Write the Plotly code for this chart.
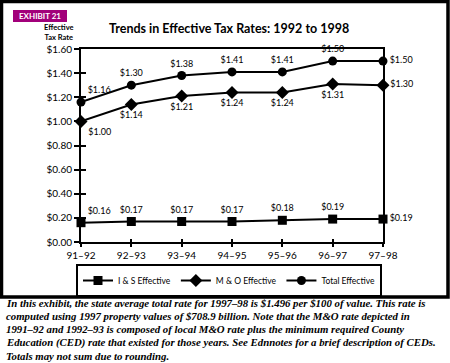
import plotly.graph_objects as go

years = ["91–92", "92–93", "93–94", "94–95", "95–96", "96–97", "97–98"]
is_eff = [0.16, 0.17, 0.17, 0.17, 0.18, 0.19, 0.19]
mo_eff = [1.00, 1.14, 1.21, 1.24, 1.24, 1.31, 1.30]
total_eff = [1.16, 1.30, 1.38, 1.41, 1.41, 1.50, 1.50]
y_ticks = [0.0, 0.2, 0.4, 0.6, 0.8, 1.0, 1.2, 1.4, 1.6]
y_tick_labels = ["$0.00", "$0.20", "$0.40", "$0.60", "$0.80", "$1.00", "$1.20", "$1.40", "$1.60"]
footer_lines = [
    "In this exhibit, the state average total rate for 1997–98 is $1.496 per $100 of value. This rate is",
    "computed using 1997 property values of $708.9 billion. Note that the M&O rate depicted in",
    "1991–92 and 1992–93 is composed of local M&O rate plus the minimum required County",
    "Education (CED) rate that existed for those years. See Ednnotes for a brief description of CEDs.",
    "Totals may not sum due to rounding.",
]

W, H = 450, 363
L, R, T, B = 81, 383, 49, 242
def px(x):
    return (x - L) / (R - L)
def py(y):
    return (B - y) / (B - T)

xs = list(range(len(years)))
FONT = "Lato"
lab = dict(family=FONT, size=9, color="black")

def labels(vals):
    return ["$%.2f" % v for v in vals]

fig = go.Figure()
fig.add_trace(go.Scatter(
    x=xs, y=is_eff, name="I & S Effective", mode="lines+markers+text",
    line=dict(color="black", width=2), marker=dict(symbol="square", size=9, color="black"),
    text=labels(is_eff),
    textposition=["top right"] + ["top center"] * 5 + ["middle right"],
    textfont=lab, cliponaxis=False))
fig.add_trace(go.Scatter(
    x=xs, y=mo_eff, name="M & O Effective", mode="lines+markers+text",
    line=dict(color="black", width=2), marker=dict(symbol="diamond", size=10, color="black"),
    text=labels(mo_eff),
    textposition=["bottom right"] + ["bottom center"] * 5 + ["middle right"],
    textfont=lab, cliponaxis=False))
fig.add_trace(go.Scatter(
    x=xs, y=total_eff, name="Total Effective", mode="lines+markers+text",
    line=dict(color="black", width=2), marker=dict(symbol="circle", size=9, color="black"),
    text=labels(total_eff),
    textposition=["top right"] + ["top center"] * 5 + ["middle right"],
    textfont=lab, cliponaxis=False))

# invisible trace on overlay axes for inside ticks
fig.add_trace(go.Scatter(x=[0], y=[0], xaxis="x2", yaxis="y2", mode="markers",
                         marker=dict(opacity=0), showlegend=False, hoverinfo="skip"))

axfont = dict(family=FONT, size=10, color="black")
fig.update_layout(
    width=W, height=H,
    margin=dict(l=L, r=W - R, t=T, b=H - B, pad=0, autoexpand=False),
    paper_bgcolor="white", plot_bgcolor="white",
    showlegend=True,
    xaxis=dict(range=[0, 6], tickvals=xs, ticktext=years, showgrid=False, zeroline=False,
               showline=True, linecolor="black", linewidth=2, mirror=True,
               ticks="outside", ticklen=3, tickwidth=2, tickcolor="black", tickfont=axfont),
    yaxis=dict(range=[0, 1.6], tickvals=y_ticks, ticktext=y_tick_labels, showgrid=False,
               zeroline=False, showline=True, linecolor="black", linewidth=2, mirror=True,
               ticks="outside", ticklen=5, tickwidth=2, tickcolor="black", tickfont=axfont),
    xaxis2=dict(range=[0, 6], overlaying="x", tickvals=xs, showticklabels=False, showgrid=False,
                zeroline=False, ticks="inside", ticklen=3, tickwidth=2, tickcolor="black"),
    yaxis2=dict(range=[0, 1.6], overlaying="y", tickvals=y_ticks, showticklabels=False,
                showgrid=False, zeroline=False, ticks="inside", ticklen=5, tickwidth=2,
                tickcolor="black"),
    legend=dict(orientation="h", x=px(76), xanchor="left", y=py(264), yanchor="top",
                bordercolor="black", borderwidth=2, bgcolor="white",
                font=dict(family=FONT, size=8.5, color="black"),
                itemwidth=30, tracegroupgap=0),
)

shapes = [
    dict(type="rect", xref="paper", yref="paper", x0=px(1.5), x1=px(448), y0=py(1.5), y1=py(297),
         line=dict(color="black", width=3.5), layer="below"),
    dict(type="rect", xref="paper", yref="paper", x0=px(13), x1=px(67), y0=py(10), y1=py(22),
         fillcolor="#a2007a", line=dict(width=0)),
]
fig.update_layout(shapes=shapes)

ann = [
    dict(text="<b>EXHIBIT 21</b>", x=px(40), y=py(16), xref="paper", yref="paper",
         showarrow=False, font=dict(family=FONT, size=8, color="white"), xanchor="center", yanchor="middle"),
    dict(text="<b>Trends in Effective Tax Rates: 1992 to 1998</b>", x=px(229), y=py(28),
         xref="paper", yref="paper", showarrow=False, xanchor="center", yanchor="middle",
         font=dict(family=FONT, size=12.5, color="black")),
    dict(text="<b>Effective<br>Tax Rate</b>", x=px(58), y=py(33), xref="paper", yref="paper",
         showarrow=False, xanchor="center", yanchor="middle", align="center",
         font=dict(family=FONT, size=7.5, color="black")),
]
for i, line in enumerate(footer_lines):
    ann.append(dict(text="<b><i>%s</i></b>" % line, x=px(4), y=py(303 + 13.2 * i),
                    xref="paper", yref="paper", showarrow=False, xanchor="left", yanchor="middle",
                    align="left", font=dict(family="Liberation Serif", size=10.8, color="black")))
fig.update_layout(annotations=ann)

fig.write_html("out.html", config={"displayModeBar": False},
               post_script="document.body.style.margin='0px';")
